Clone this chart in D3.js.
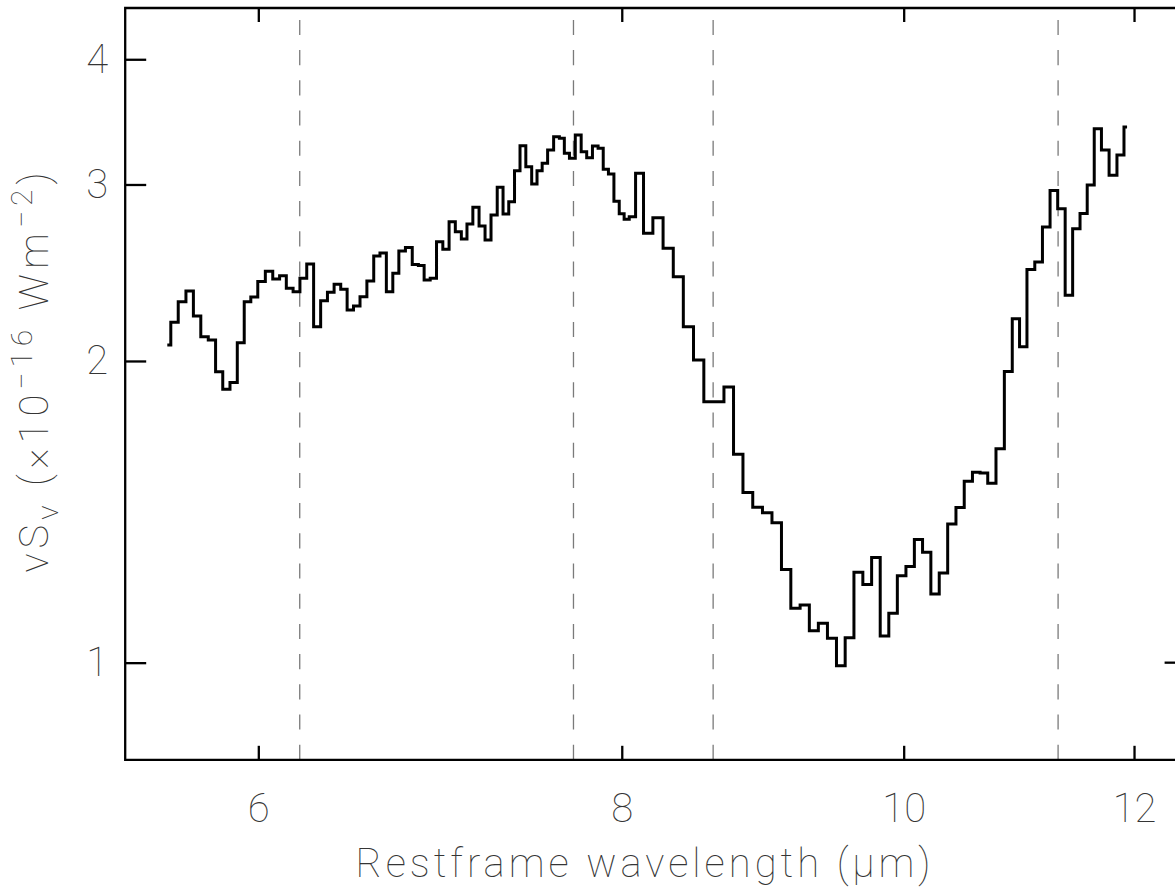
<!DOCTYPE html>
<html>
<head>
<meta charset="utf-8">
<script src="https://cdn.jsdelivr.net/npm/d3@7"></script>
<style>
  html, body { margin: 0; padding: 0; background: #fff; overflow: hidden; }
  svg { display: block; }
  text { font-family: Roboto, "DejaVu Sans", sans-serif; font-weight: 100; fill: #333; font-size: 40px; opacity: 0.99; }
</style>
</head>
<body>
<svg id="chart" width="1175" height="890"></svg>
<script>
// Rest-frame mid-IR spectrum (bin centres, µm) and flux density nuSnu (1e-16 W m^-2)
const wavelength = [
  5.583, 5.614, 5.649, 5.683, 5.716, 5.750, 5.784, 5.817, 5.850, 5.884,
  5.918, 5.949, 5.980, 6.015, 6.052, 6.086, 6.118, 6.151, 6.184, 6.218,
  6.251, 6.286, 6.321, 6.354, 6.388, 6.421, 6.453, 6.486, 6.520, 6.557,
  6.591, 6.622, 6.658, 6.690, 6.722, 6.760, 6.795, 6.826, 6.857, 6.892,
  6.926, 6.961, 6.995, 7.030, 7.062, 7.093, 7.128, 7.163, 7.196, 7.231,
  7.267, 7.298, 7.333, 7.365, 7.397, 7.433, 7.466, 7.496, 7.527, 7.561,
  7.599, 7.630, 7.659, 7.692, 7.730, 7.764, 7.798, 7.835, 7.868, 7.899,
  7.933, 7.968, 8.000, 8.030, 8.065, 8.111, 8.167, 8.232, 8.300, 8.366,
  8.433, 8.502, 8.572, 8.640, 8.708, 8.772, 8.839, 8.909, 8.976, 9.044,
  9.112, 9.179, 9.247, 9.314, 9.380, 9.449, 9.515, 9.580, 9.648, 9.716,
  9.783, 9.849, 9.917, 9.983, 10.053, 10.117, 10.184, 10.251, 10.320, 10.389,
  10.456, 10.526, 10.593, 10.654, 10.722, 10.794, 10.865, 10.930, 10.991, 11.059,
  11.128, 11.194, 11.263, 11.330, 11.397, 11.465, 11.531, 11.596, 11.660, 11.729,
  11.802, 11.876, 11.934
];
const flux = [
  2.075, 2.186, 2.292, 2.349, 2.218, 2.115, 2.099, 1.951, 1.874, 1.903,
  2.086, 2.292, 2.317, 2.401, 2.458, 2.414, 2.433, 2.363, 2.345, 2.418,
  2.499, 2.164, 2.297, 2.342, 2.385, 2.358, 2.249, 2.269, 2.318, 2.403,
  2.545, 2.563, 2.345, 2.446, 2.575, 2.596, 2.496, 2.491, 2.409, 2.418,
  2.630, 2.585, 2.754, 2.692, 2.647, 2.740, 2.847, 2.727, 2.641, 2.797,
  2.981, 2.803, 2.884, 3.097, 3.280, 3.125, 3.003, 3.097, 3.150, 3.247,
  3.348, 3.336, 3.223, 3.186, 3.361, 3.235, 3.190, 3.277, 3.260, 3.107,
  3.073, 2.886, 2.805, 2.769, 2.786, 3.078, 2.682, 2.780, 2.591, 2.427,
  2.164, 2.005, 1.821, 1.821, 1.884, 1.614, 1.478, 1.429, 1.411, 1.379,
  1.239, 1.133, 1.142, 1.076, 1.095, 1.058, 0.993, 1.059, 1.231, 1.197,
  1.273, 1.063, 1.120, 1.221, 1.247, 1.327, 1.289, 1.171, 1.229, 1.375,
  1.428, 1.517, 1.549, 1.546, 1.510, 1.635, 1.952, 2.204, 2.066, 2.468,
  2.510, 2.721, 2.959, 2.838, 2.326, 2.710, 2.807, 2.996, 3.410, 3.248,
  3.065, 3.211, 3.424
];

// PAH feature positions (µm)
const featureLines = [6.2, 7.7, 8.6, 11.3];

// Axis ticks
const xTicks = [6, 8, 10, 12];
const yTicks = [1, 2, 3, 4];
const rightTicks = [1];

const xDomain = [5.4, 12.5];
const yDomain = [0.8, 4.5];

const width = 1175;
const svg = d3.select("#chart");

const x = d3.scaleLog().domain(xDomain).range([125.2, 1185.6]);
const y = d3.scaleLog().domain(yDomain).range([759.8, 8.0]);

const [x0, x1] = x.range();
const [yb, yt] = y.range();
// visible right limit: the plot continues a little past the page edge
const xr = Math.min(x1, width);

// dashed feature markers
svg.append("g")
  .selectAll("line")
  .data(featureLines)
  .join("line")
  .attr("x1", d => x(d)).attr("x2", d => x(d))
  .attr("y1", y(yDomain[0])).attr("y2", y(yDomain[1]))
  .attr("stroke", "#7a7a7a")
  .attr("stroke-width", 1.3)
  .attr("stroke-dasharray", "15.1 15.1");

// spectrum, histogram style
const line = d3.line()
  .x((d, i) => x(wavelength[i]))
  .y(d => y(d))
  .curve(d3.curveStep);

svg.append("path")
  .datum(flux)
  .attr("d", line)
  .attr("fill", "none")
  .attr("stroke", "#000")
  .attr("stroke-width", 3)
  .attr("stroke-linejoin", "miter");

// axes
function styleAxis(g) {
  g.attr("font-size", null).attr("font-family", null);
  g.select(".domain").remove();
  g.selectAll(".tick line").attr("stroke", "#000").attr("stroke-width", 2.3);
}

svg.append("g")
  .attr("transform", `translate(0,${yb})`)
  .call(d3.axisBottom(x).tickValues(xTicks).tickFormat(d3.format("d"))
    .tickSizeInner(-14).tickSizeOuter(0).tickPadding(34))
  .call(styleAxis);

svg.append("g")
  .attr("transform", `translate(0,${yt})`)
  .call(d3.axisTop(x).tickValues(xTicks).tickFormat(() => "")
    .tickSizeInner(-14).tickSizeOuter(0))
  .call(styleAxis);

svg.append("g")
  .attr("transform", `translate(${x0},0)`)
  .call(d3.axisLeft(y).tickValues(yTicks).tickFormat(d3.format("d"))
    .tickSizeInner(-21).tickSizeOuter(0).tickPadding(17))
  .call(styleAxis);

// right-hand tick marks
svg.append("g")
  .selectAll("line")
  .data(rightTicks)
  .join("line")
  .attr("x1", x1 - 21).attr("x2", xr)
  .attr("y1", d => y(d)).attr("y2", d => y(d))
  .attr("stroke", "#000")
  .attr("stroke-width", 2.3);

// frame: left, bottom and top edges
const frame = d3.path();
frame.moveTo(xr, yt);
frame.lineTo(x0, yt);
frame.lineTo(x0, yb);
frame.lineTo(xr, yb);
svg.append("path")
  .attr("d", frame.toString())
  .attr("fill", "none")
  .attr("stroke", "#000")
  .attr("stroke-width", 2.3);

// axis titles
svg.append("text")
  .attr("x", 645).attr("y", 877)
  .attr("text-anchor", "middle")
  .style("letter-spacing", "4px")
  .text("Restframe wavelength (\u03bcm)");

const yTitle = svg.append("text")
  .attr("transform", "translate(48,370) rotate(-90)")
  .attr("text-anchor", "middle")
  .style("letter-spacing", "5px");
yTitle.append("tspan").text("\u03bdS");
yTitle.append("tspan").attr("dy", 10).style("font-size", "30px").text("\u03bd");
yTitle.append("tspan").attr("dy", -10).text(" (\u00d710");
yTitle.append("tspan").attr("dy", -16).style("font-size", "30px").text("\u221216");
yTitle.append("tspan").attr("dy", 16).text(" Wm");
yTitle.append("tspan").attr("dy", -16).style("font-size", "30px").text("\u22122");
yTitle.append("tspan").attr("dy", 16).text(")");
</script>
</body>
</html>
